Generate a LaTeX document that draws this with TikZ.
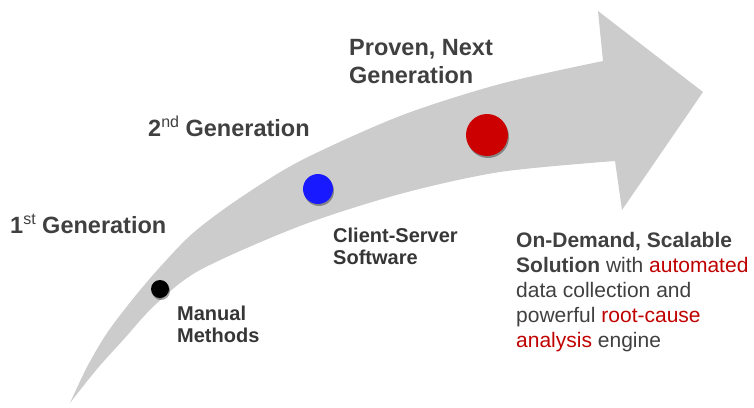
\documentclass[tikz,border=0pt]{standalone}
\usepackage{fontspec}
\setmainfont{Liberation Sans}
\usetikzlibrary{shadows}
\definecolor{arrowgray}{HTML}{CCCCCC}
\definecolor{txtgray}{HTML}{404040}
\definecolor{hired}{HTML}{C00000}
\newcommand{\gensup}[1]{\raisebox{0.7ex}{\fontsize{16}{16}\selectfont\mdseries #1}}
\begin{document}
\begin{tikzpicture}[x=1pt, y=-1pt,
  gen/.style={anchor=base west, inner sep=0, text=txtgray, align=left, font=\fontsize{23.5}{28}\selectfont\bfseries},
  stage/.style={anchor=base west, inner sep=0, text=txtgray!85!black, align=left, font=\fontsize{20}{22}\selectfont\bfseries},
  dot/.style={circle, inner sep=0, draw=none, drop shadow={shadow xshift=1pt, shadow yshift=-2pt, opacity=0.35, fill=black}}]
\useasboundingbox (0,0) rectangle (754,407);
%arrow:
\fill[arrowgray] plot[smooth] coordinates {(70,403) (87,367) (107,333) (132,300) (160,267) (193,233) (237,200) (300,161) (400,116) (500,84) (603,61)}
  -- (598,11) -- (703,92) -- (622,210) -- (615,161)
  -- plot[smooth] coordinates {(615,161) (500,172) (400,194) (300,226) (200,270) (155,305) (124,339) (97,369) (70,403)} -- cycle;
%dots:
\node[dot, fill=black, minimum size=18] (manual) at (160,289) {};
\node[dot, fill=blue!90!white, minimum size=30] (client) at (318,189) {};
\node[dot, fill=red!80!black, minimum size=42] (proven) at (487,135) {};
%generations:
\node[gen] (first) at (10,233) {1\gensup{st} Generation};
\node[gen] (second) at (148,136) {2\gensup{nd} Generation};
\node[gen] (next) at (349,83) {Proven, Next\\Generation};
%stages:
\node[stage] (manuallbl) at (177,342) {Manual\\Methods};
\node[stage] (clientlbl) at (333,264) {Client-Server\\Software};
\node[anchor=base west, inner sep=0, text=txtgray, align=left, font=\fontsize{21}{25}\selectfont] (solution) at (516,347)
  {\textbf{On-Demand, Scalable}\\\textbf{Solution} with \textcolor{hired}{automated}\\data collection and\\powerful \textcolor{hired}{root-cause}\\\textcolor{hired}{analysis} engine};
\end{tikzpicture}
\end{document}
